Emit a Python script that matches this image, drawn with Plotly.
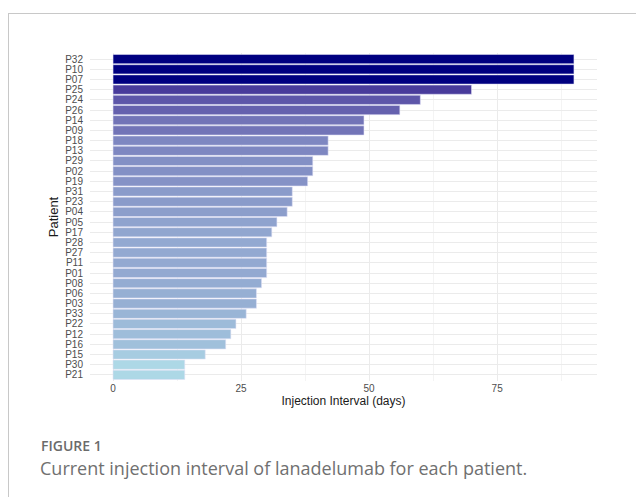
import plotly.graph_objects as go

# ---- data (top to bottom as shown) ----
patients = ["P32", "P10", "P07", "P25", "P24", "P26", "P14", "P09", "P18", "P13",
            "P29", "P02", "P19", "P31", "P23", "P04", "P05", "P17", "P28", "P27",
            "P11", "P01", "P08", "P06", "P03", "P33", "P22", "P12", "P16", "P15",
            "P30", "P21"]
intervals = [90, 90, 90, 70, 60, 56, 49, 49, 42, 42,
             39, 39, 38, 35, 35, 34, 32, 31, 30, 30,
             30, 30, 29, 28, 28, 26, 24, 23, 22, 18,
             14, 14]
x_ticks = [0, 25, 50, 75]

LOW = (173, 216, 230)   # lightblue
HIGH = (0, 0, 128)      # navy


# ---- Lab colour interpolation (like ggplot2 scale_fill_gradient) ----
def _lin(c):
    c = c / 255.0
    return c / 12.92 if c <= 0.04045 else ((c + 0.055) / 1.055) ** 2.4


def _delin(c):
    c = 12.92 * c if c <= 0.0031308 else 1.055 * c ** (1 / 2.4) - 0.055
    return max(0, min(255, round(c * 255)))


WHITE = (0.95047, 1.0, 1.08883)


def rgb2lab(rgb):
    r, g, b = [_lin(v) for v in rgb]
    X = 0.4124 * r + 0.3576 * g + 0.1805 * b
    Y = 0.2126 * r + 0.7152 * g + 0.0722 * b
    Z = 0.0193 * r + 0.1192 * g + 0.9505 * b

    def f(t):
        return t ** (1 / 3) if t > 0.008856 else 7.787 * t + 16 / 116
    fx, fy, fz = f(X / WHITE[0]), f(Y / WHITE[1]), f(Z / WHITE[2])
    return (116 * fy - 16, 500 * (fx - fy), 200 * (fy - fz))


def lab2rgb(lab):
    L, a, b = lab
    fy = (L + 16) / 116
    fx = fy + a / 500
    fz = fy - b / 200

    def finv(t):
        return t ** 3 if t ** 3 > 0.008856 else (t - 16 / 116) / 7.787
    X, Y, Z = finv(fx) * WHITE[0], finv(fy) * WHITE[1], finv(fz) * WHITE[2]
    r = 3.2406 * X - 1.5372 * Y - 0.4986 * Z
    g = -0.9689 * X + 1.8758 * Y + 0.0415 * Z
    bb = 0.0557 * X - 0.2040 * Y + 1.0570 * Z
    return tuple(_delin(max(0, v)) for v in (r, g, bb))


lo_lab, hi_lab = rgb2lab(LOW), rgb2lab(HIGH)
vmin, vmax = min(intervals), max(intervals)


def colour(v):
    t = (v - vmin) / (vmax - vmin)
    lab = tuple(lo_lab[i] + t * (hi_lab[i] - lo_lab[i]) for i in range(3))
    r, g, b = lab2rgb(lab)
    return f"rgb({r},{g},{b})"


colours = [colour(v) for v in intervals]

fig = go.Figure(go.Bar(
    x=intervals, y=patients, orientation="h",
    marker=dict(color=colours, line=dict(color="rgba(225,225,245,0.9)", width=0.6)),
    width=0.9,
))

# the page body has an 8px margin, so the figure is 8px smaller and shifted
OFF = 8
W, H = 644 - OFF, 497 - OFF
L_M, T_M = 90 - OFF, 53 - OFF
R_M = W - (597 - OFF)
B_M = H - (381 - OFF)
pw, ph = W - L_M - R_M, H - T_M - B_M


def px(xs):
    return (xs - OFF - L_M) / pw


def py(ys):
    return (H - B_M - (ys - OFF)) / ph


tick_font = dict(family="Liberation Sans, Arial, sans-serif", size=10, color="#4d4d4d")

fig.update_layout(
    width=W, height=H,
    margin=dict(l=L_M, r=R_M, t=T_M, b=B_M),
    paper_bgcolor="white", plot_bgcolor="white",
    showlegend=False,
    bargap=0.1,
    xaxis=dict(
        range=[-4.5, 94.5], tickvals=x_ticks, ticktext=[str(t) for t in x_ticks],
        showgrid=True, gridcolor="#ebebeb", gridwidth=1, zeroline=False,
        showline=False, ticks="", tickfont=tick_font,
        minor=dict(dtick=12.5, tick0=0, showgrid=True, gridcolor="#f4f4f4", gridwidth=0.6),
        title=dict(text="Injection Interval (days)", standoff=2,
                   font=dict(family="Liberation Sans, Arial, sans-serif", size=12, color="#1a1a1a")),
    ),
    yaxis=dict(
        categoryorder="array", categoryarray=patients,
        tickmode="array", tickvals=patients, ticktext=patients,
        range=[len(patients) - 0.4, -0.6],
        showgrid=True, gridcolor="#ebebeb", gridwidth=1, zeroline=False,
        showline=False, ticks="", tickfont=tick_font, ticklabelstandoff=6,
        title=dict(text="Patient", standoff=3,
                   font=dict(family="Liberation Sans, Arial, sans-serif", size=13, color="#1a1a1a")),
    ),
    shapes=[
        dict(type="line", xref="paper", yref="paper", x0=px(8), x1=px(660), y0=py(13.5), y1=py(13.5),
             line=dict(color="#c8c8c8", width=1)),
        dict(type="line", xref="paper", yref="paper", x0=px(8.5), x1=px(8.5), y0=py(13), y1=py(510),
             line=dict(color="#c8c8c8", width=1)),
    ],
    annotations=[
        dict(text="FIGURE 1", xref="paper", yref="paper", x=px(39), y=py(445),
             xanchor="left", yanchor="middle", showarrow=False,
             font=dict(family="Open Sans, sans-serif", size=14, weight=600, color="#6b6b6b")),
        dict(text="Current injection interval of lanadelumab for each patient.",
             xref="paper", yref="paper", x=px(38), y=py(468),
             xanchor="left", yanchor="middle", showarrow=False,
             font=dict(family="Open Sans, sans-serif", size=18, color="#707070")),
    ],
)

fig.write_html("out.html")
